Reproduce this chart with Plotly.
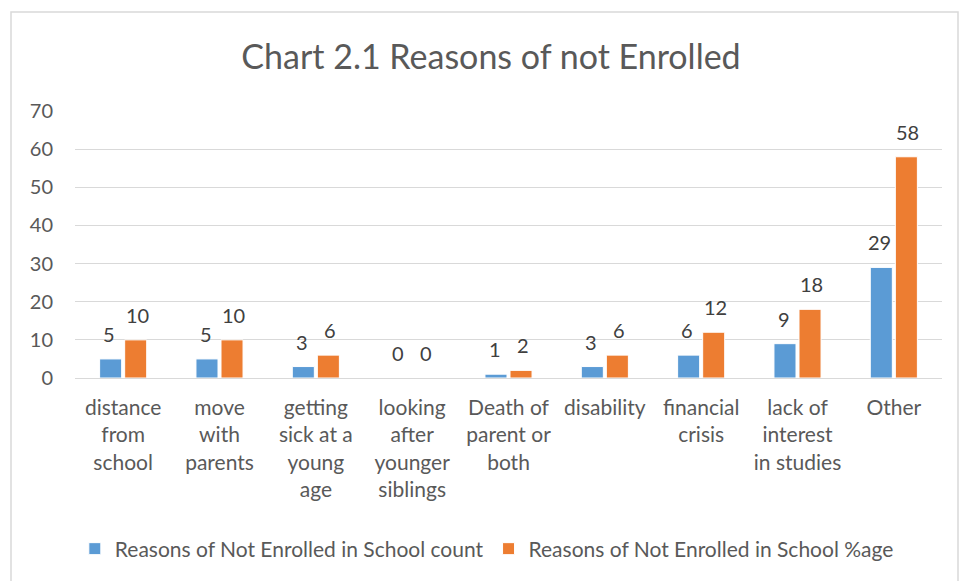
import plotly.graph_objects as go

categories = ["distance<br>from<br>school", "move<br>with<br>parents", "getting<br>sick at a<br>young<br>age",
              "looking<br>after<br>younger<br>siblings", "Death of<br>parent or<br>both", "disability",
              "financial<br>crisis", "lack of<br>interest<br>in studies", "Other"]
count_values = [5, 5, 3, 0, 1, 3, 6, 9, 29]
pct_values = [10, 10, 6, 0, 2, 6, 12, 18, 58]
series_names = ["Reasons of Not Enrolled in School count", "Reasons of Not Enrolled in School %age"]
colors = ["#5B9BD5", "#ED7D31"]
y_ticks = [0, 10, 20, 30, 40, 50, 60, 70]

FONT = "Lato"
fig = go.Figure()
for name, vals, col in zip(series_names, [count_values, pct_values], colors):
    fig.add_trace(go.Bar(x=categories, y=vals, name=name, marker=dict(color=col, line=dict(color="white", width=1))))

annotations = []
for vals, shift in [(count_values, -14), (pct_values, 14)]:
    for c, v in zip(categories, vals):
        annotations.append(dict(x=c, y=v, text=str(v), showarrow=False, xshift=shift, yshift=25,
                                yanchor="middle", font=dict(family=FONT, size=20, color="#404040")))

L, R, T, B = 75, 18, 111, 203
W, H = 960 - L - R, 581 - T - B
fig.update_layout(
    width=960, height=581,
    margin=dict(l=L, r=R, t=T, b=B),
    paper_bgcolor="white", plot_bgcolor="white",
    title=dict(text="Chart 2.1 Reasons of not Enrolled", x=491 / 960, xanchor="center", y=1 - 57 / 581, yanchor="middle",
               font=dict(family=FONT, size=34, color="#595959")),
    barmode="group", bargap=0.48, bargroupgap=0.12,
    xaxis=dict(tickfont=dict(family=FONT, size=21, color="#595959"), showline=False, ticks="",
               ticklabelstandoff=15),
    yaxis=dict(range=[0, 70], tickvals=y_ticks, showgrid=True, gridcolor="#D9D9D9", gridwidth=1,
               zeroline=True, zerolinecolor="#D9D9D9", zerolinewidth=1,
               tickfont=dict(family=FONT, size=20, color="#595959"), ticks="", ticklabelstandoff=21),
    legend=dict(orientation="h", x=0.475, xanchor="center", y=(378 - 549) / H, yanchor="middle",
                font=dict(family=FONT, size=21, color="#595959"), itemwidth=30),
    annotations=annotations,
    showlegend=True,
)
fig.add_shape(type="rect", xref="paper", yref="paper",
              x0=(11 - L) / W, x1=(958 - L) / W, y0=-(B + 5) / H, y1=1 + (T - 12) / H,
              line=dict(color="#D9D9D9", width=1.5), fillcolor="rgba(0,0,0,0)", layer="below")
fig.write_html("out.html")
